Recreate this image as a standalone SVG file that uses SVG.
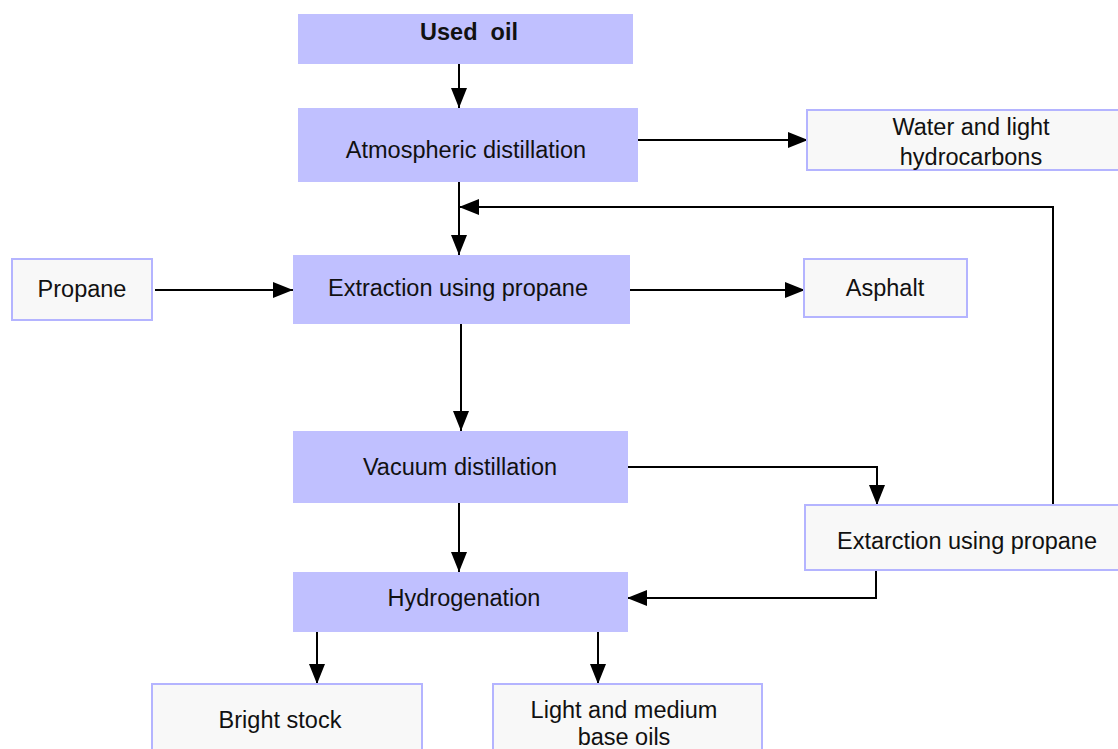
<svg xmlns="http://www.w3.org/2000/svg" width="1118" height="749" viewBox="0 0 1118 749">
<style>
.main{fill:#C0C0FF;stroke:none}
.out{fill:#F8F8F8;stroke:#B4B4FF;stroke-width:2}
text{font-family:"Liberation Sans",Arial,sans-serif;font-size:23.5px;fill:#111;text-anchor:middle}
.b{font-weight:bold}
.c{fill:none;stroke:#000;stroke-width:2}
</style>
<defs>
<marker id="a" viewBox="0 0 20 16" refX="20" refY="8" markerWidth="20" markerHeight="16" orient="auto" markerUnits="userSpaceOnUse">
<path d="M0,0 L20,8 L0,16 Z" fill="#000"/>
</marker>
</defs>
<rect width="1118" height="749" fill="#fff"/>
<g id="connectors">
<path class="c" d="M459,60 V108" marker-end="url(#a)"/>
<path class="c" d="M638,140 H808" marker-end="url(#a)"/>
<path class="c" d="M459,178 V255" marker-end="url(#a)"/>
<path class="c" d="M1053,505 V207 H459" marker-end="url(#a)"/>
<path class="c" d="M155,290 H293" marker-end="url(#a)"/>
<path class="c" d="M630,290 H805" marker-end="url(#a)"/>
<path class="c" d="M461,316 V431" marker-end="url(#a)"/>
<path class="c" d="M628,467 H877 V505" marker-end="url(#a)"/>
<path class="c" d="M876,570 V598 H627" marker-end="url(#a)"/>
<path class="c" d="M459,500 V572" marker-end="url(#a)"/>
<path class="c" d="M317,630 V684" marker-end="url(#a)"/>
<path class="c" d="M598,630 V684" marker-end="url(#a)"/>
</g>
<g id="used-oil"><rect class="main" x="298" y="14" width="335" height="50"/><text class="b" x="469" y="40">Used&#160; oil</text></g>
<g id="atmospheric"><rect class="main" x="298" y="108" width="340" height="74"/><text x="466" y="158">Atmospheric distillation</text></g>
<g id="water"><rect class="out" x="807" y="110" width="320" height="60"/><text x="971" y="135">Water and light</text><text x="971" y="165">hydrocarbons</text></g>
<g id="propane"><rect class="out" x="12" y="259" width="140" height="61"/><text x="82" y="297">Propane</text></g>
<g id="extraction"><rect class="main" x="293" y="255" width="337" height="69"/><text x="458" y="296">Extraction using propane</text></g>
<g id="asphalt"><rect class="out" x="804" y="259" width="163" height="58"/><text x="885" y="296">Asphalt</text></g>
<g id="vacuum"><rect class="main" x="293" y="431" width="335" height="72"/><text x="460" y="475">Vacuum distillation</text></g>
<g id="extarction"><rect class="out" x="805" y="505" width="320" height="65"/><text x="967" y="549">Extarction using propane</text></g>
<g id="hydrogenation"><rect class="main" x="293" y="572" width="335" height="60"/><text x="464" y="606">Hydrogenation</text></g>
<g id="bright"><rect class="out" x="152" y="684" width="270" height="75"/><text x="280" y="728">Bright stock</text></g>
<g id="light"><rect class="out" x="493" y="684" width="269" height="75"/><text x="624" y="718">Light and medium</text><text x="624" y="745">base oils</text></g>
</svg>
